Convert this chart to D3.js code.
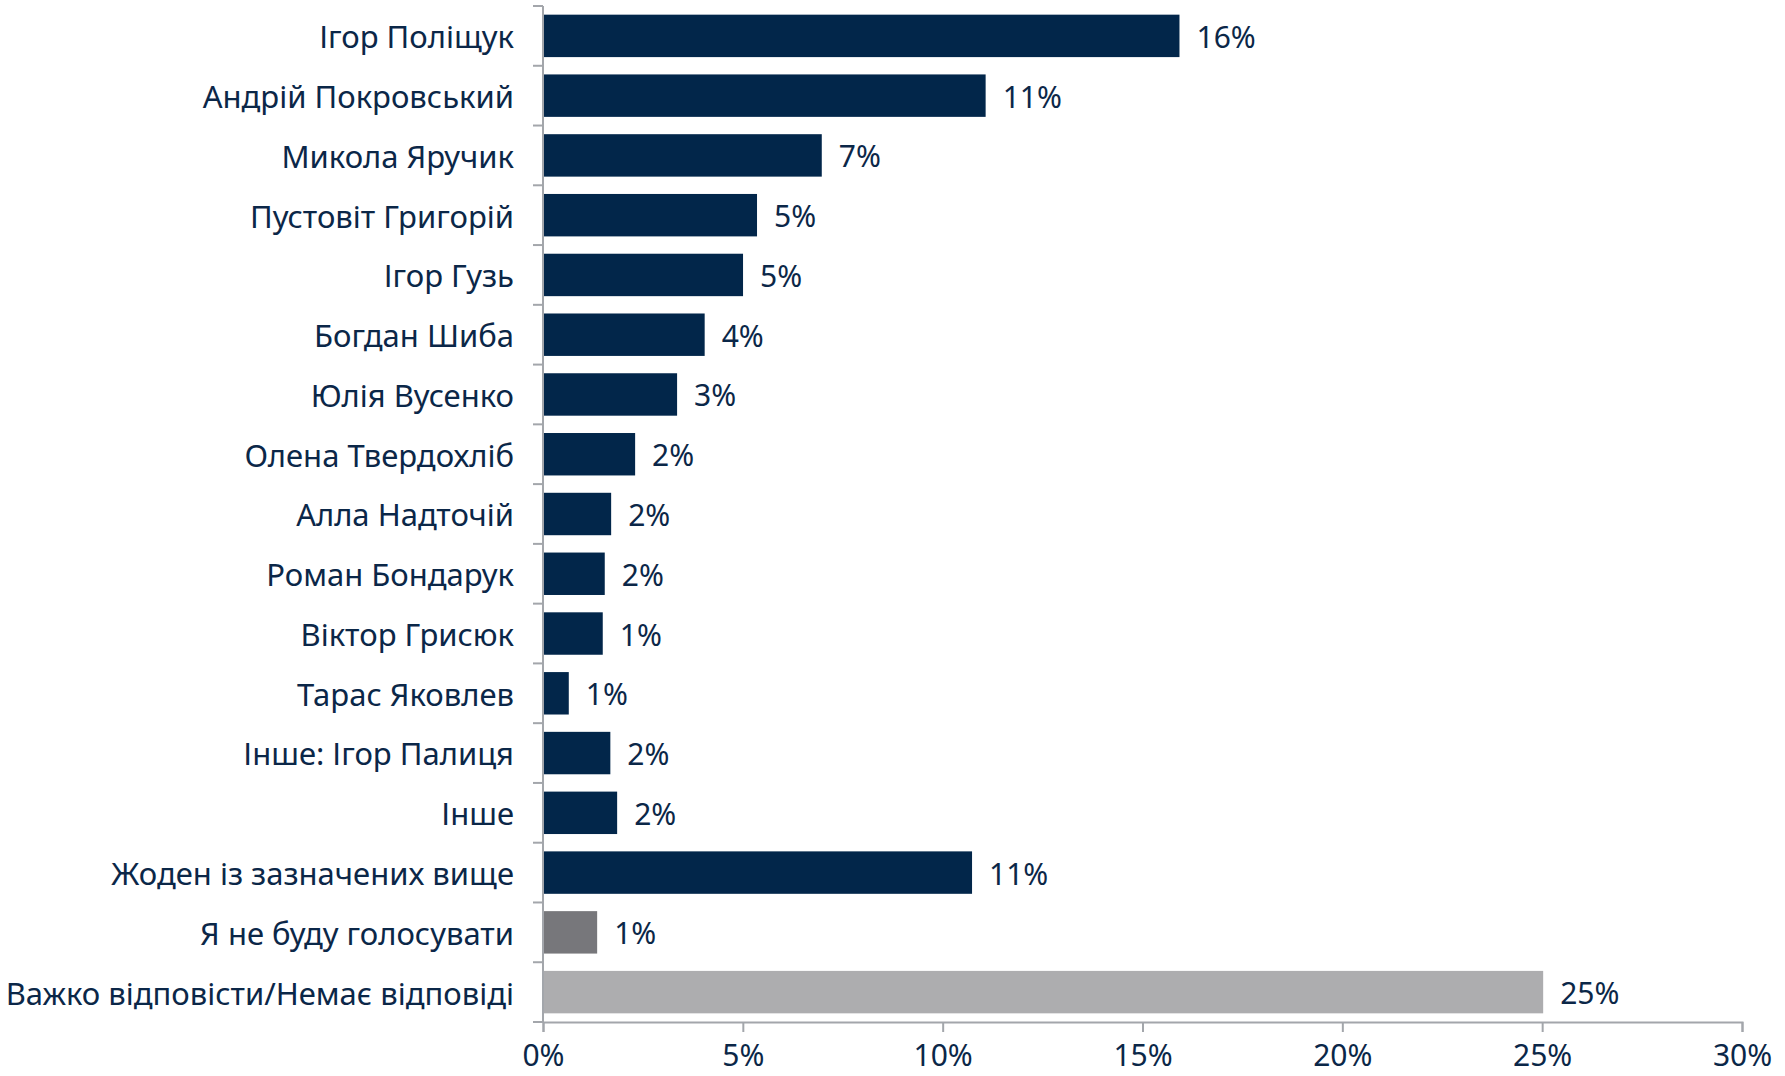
<!DOCTYPE html>
<html>
<head>
<meta charset="utf-8">
<script src="https://cdn.jsdelivr.net/npm/d3@7"></script>
<style>
body { margin: 0; background: #fff; }
text { font-family: "Noto Sans", sans-serif; fill: #0b2748; }
</style>
</head>
<body>
<div id="root"></div>
<script>
var width = 1785;
var height = 1076;

// candidates, top to bottom
var categories = [
	"Ігор Поліщук",
	"Андрій Покровський",
	"Микола Яручик",
	"Пустовіт Григорій",
	"Ігор Гузь",
	"Богдан Шиба",
	"Юлія Вусенко",
	"Олена Твердохліб",
	"Алла Надточій",
	"Роман Бондарук",
	"Віктор Грисюк",
	"Тарас Яковлев",
	"Інше: Ігор Палиця",
	"Інше",
	"Жоден із зазначених вище",
	"Я не буду голосувати",
	"Важко відповісти/Немає відповіді"
];

// percent
var values = [15.9, 11.05, 6.95, 5.33, 4.98, 4.02, 3.33, 2.28, 1.68, 1.52, 1.47, 0.62, 1.66, 1.83, 10.71, 1.33, 25.0];

var barColors = ["#02264a", "#02264a", "#02264a", "#02264a", "#02264a", "#02264a", "#02264a", "#02264a",
	"#02264a", "#02264a", "#02264a", "#02264a", "#02264a", "#02264a", "#02264a", "#77777b", "#adadaf"];

var xTicks = [0, 5, 10, 15, 20, 25, 30];

// note: "top" is taken by window.top, so plot edges get their own names
var plotLeft = 543, plotRight = 1742, plotTop = 6, plotBottom = 1022;

var svg = d3.select("#root")
	.append("svg")
	.attr("width", width)
	.attr("height", height);

var x = d3.scaleLinear()
	.domain([0, 30])
	.range([plotLeft, plotRight]);

var y = d3.scaleBand()
	.domain(categories)
	.range([plotTop, plotBottom])
	.paddingInner(0.29)
	.paddingOuter(0.145);

// bars
svg.append("g")
	.selectAll("rect")
	.data(values)
	.enter()
	.append("rect")
	.attr("x", x(0) + 1)
	.attr("y", function(d, i) { return y(categories[i]); })
	.attr("width", function(d) { return x(d) - x(0); })
	.attr("height", y.bandwidth())
	.attr("fill", function(d, i) { return barColors[i]; });

// value labels
svg.append("g")
	.selectAll("text")
	.data(values)
	.enter()
	.append("text")
	.attr("x", function(d) { return x(d) + 18; })
	.attr("y", function(d, i) { return y(categories[i]) + y.bandwidth() / 2; })
	.attr("dy", "0.4em")
	.attr("font-size", "30px")
	.text(function(d) { return Math.round(d) + "%"; });

// category axis, ticks between bands like Excel
var yAxis = svg.append("g");
yAxis.append("line")
	.attr("x1", plotLeft).attr("x2", plotLeft)
	.attr("y1", plotTop).attr("y2", plotBottom)
	.attr("stroke", "#a3a6ab").attr("stroke-width", 2);
yAxis.selectAll("line.tick")
	.data(d3.range(categories.length + 1))
	.enter()
	.append("line")
	.attr("class", "tick")
	.attr("x1", plotLeft - 10).attr("x2", plotLeft)
	.attr("y1", function(i) { return plotTop + i * y.step(); })
	.attr("y2", function(i) { return plotTop + i * y.step(); })
	.attr("stroke", "#a3a6ab").attr("stroke-width", 2);
yAxis.selectAll("text")
	.data(categories)
	.enter()
	.append("text")
	.attr("x", plotLeft - 29)
	.attr("y", function(d) { return y(d) + y.bandwidth() / 2; })
	.attr("dy", "0.4em")
	.attr("text-anchor", "end")
	.attr("font-size", "31px")
	.text(function(d) { return d; });

// value axis
var xAxis = svg.append("g")
	.attr("transform", "translate(0," + plotBottom + ")")
	.call(d3.axisBottom(x).tickValues(xTicks).tickSize(10).tickPadding(13).tickFormat(function(d) { return d + "%"; }));
xAxis.select(".domain").attr("stroke", "#a3a6ab").attr("stroke-width", 2);
xAxis.selectAll(".tick line").attr("stroke", "#a3a6ab").attr("stroke-width", 2);
xAxis.selectAll(".tick text")
	.attr("font-size", "30px")
	.attr("font-family", "Noto Sans")
	.attr("fill", "#0b2748");
</script>
</body>
</html>
